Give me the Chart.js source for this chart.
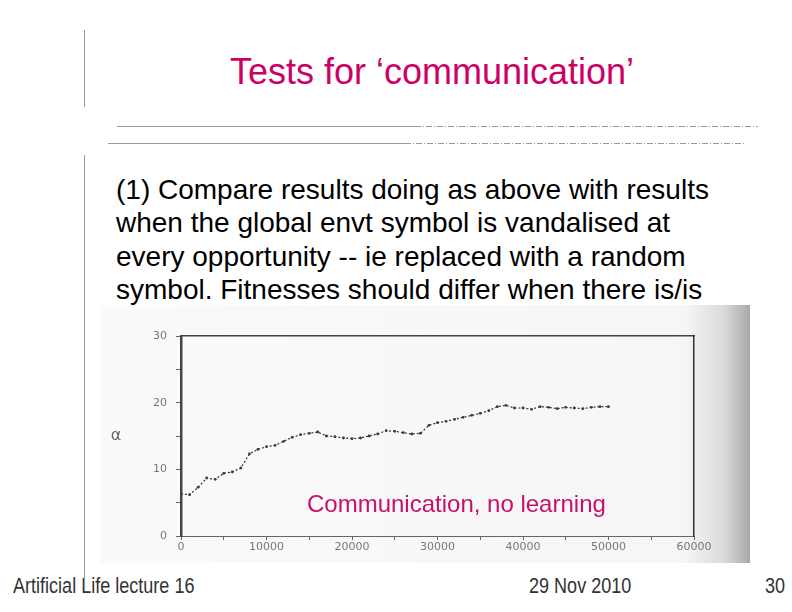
<!DOCTYPE html>
<html>
<head>
<meta charset="utf-8">
<script src="https://cdn.jsdelivr.net/npm/chart.js@4"></script>
<style>
  html, body { margin: 0; padding: 0; background: #fff; }
  #slide { position: relative; width: 792px; height: 612px; overflow: hidden; font-family: 'Liberation Sans', Arial, sans-serif; }
  .rule { position: absolute; background: #999; }
  #title { position: absolute; left: 0; width: 864px; top: 51px; text-align: center; font-size: 36px; color: #cc0066; }
  #body { position: absolute; left: 116px; top: 173px; font-size: 28px; line-height: 33.4px; color: #000; white-space: nowrap; }
  #plot { position: absolute; left: 100px; top: 305px; width: 650px; height: 258px;
    background: linear-gradient(to right, #fafafa 0%, #f6f6f6 90%, #dadada 96%, #a9a9a9 100%); }
  #note { position: absolute; left: 307px; top: 490px; font-size: 24px; color: #c8106a; white-space: nowrap; }
  .foot { position: absolute; top: 573px; font-size: 22px; color: #333; white-space: nowrap;
    transform: scaleX(0.82); transform-origin: left top; }
</style>
</head>
<body>
<div id="slide">
  <div class="rule" style="left:84px;top:30px;width:1px;height:77px"></div>
  <div id="title">Tests for ‘communication’</div>
  <div class="rule" style="left:117px;top:126px;width:298px;height:1px"></div>
  <div class="rule" style="left:415px;top:126px;width:343px;height:1px;background:repeating-linear-gradient(to right,#999 0 6px,transparent 6px 8px,#999 8px 9px,transparent 9px 11px)"></div>
  <div class="rule" style="left:108px;top:143px;width:297px;height:1px"></div>
  <div class="rule" style="left:405px;top:143px;width:340px;height:1px;background:repeating-linear-gradient(to right,#999 0 6px,transparent 6px 8px,#999 8px 9px,transparent 9px 11px)"></div>
  <div class="rule" style="left:84px;top:155px;width:1px;height:423px"></div>
  <div id="body">(1) Compare results doing as above with results<br>when the global envt symbol is vandalised at<br>every opportunity -- ie replaced with a random<br>symbol. Fitnesses should differ when there is/is</div>
  <div id="plot"><canvas id="chart" width="650" height="258"></canvas></div>
  <div id="note">Communication, no learning</div>
  <div class="foot" style="left:13px">Artificial Life lecture 16</div>
  <div class="foot" style="left:529px">29 Nov 2010</div>
  <div class="foot" style="left:765px">30</div>
</div>
<script>
// generations (x) and alpha (y)
const generations = [
  0, 1000, 2000, 3000, 4000, 5000, 6000, 7000, 8000, 9000,
  10000, 11000, 12000, 13000, 14000, 15000, 16000, 17000, 18000, 19000,
  20000, 21000, 22000, 23000, 24000, 25000, 26000, 27000, 28000, 29000,
  30000, 31000, 32000, 33000, 34000, 35000, 36000, 37000, 38000, 39000,
  40000, 41000, 42000, 43000, 44000, 45000, 46000, 47000, 48000, 49000, 50000
];
const alphaValues = [
  6.3, 6.2, 7.3, 8.7, 8.5, 9.4, 9.6, 10.2, 12.3, 13.0,
  13.4, 13.6, 14.2, 14.8, 15.2, 15.4, 15.6, 15.0, 14.9, 14.7,
  14.6, 14.7, 15.0, 15.3, 15.8, 15.7, 15.5, 15.3, 15.4, 16.6,
  17.0, 17.2, 17.5, 17.8, 18.1, 18.4, 18.8, 19.4, 19.6, 19.2,
  19.2, 19.0, 19.4, 19.3, 19.1, 19.3, 19.2, 19.1, 19.3, 19.4, 19.4
];
const X_MAX = 60000;
const Y_MAX = 30;
const yLabel = 'α';

const tickFont = { family: "'DejaVu Sans', sans-serif", size: 11 };
const tickColor = '#777';

// draw the unrotated α label left of the y axis
const alphaLabel = {
  id: 'alphaLabel',
  afterDraw(chart) {
    const { ctx, chartArea, scales } = chart;
    ctx.save();
    ctx.font = "16px 'DejaVu Sans', sans-serif";
    ctx.fillStyle = '#666';
    ctx.textAlign = 'center';
    ctx.textBaseline = 'middle';
    ctx.fillText(yLabel, chartArea.left - 65, scales.y.getPixelForValue(15));
    ctx.restore();
  }
};

const canvas = document.getElementById('chart');
const chart = new Chart(canvas.getContext('2d'), {
  type: 'line',
  data: {
    datasets: [{
      data: generations.map((g, i) => ({ x: g, y: alphaValues[i] })),
      borderColor: '#333', borderWidth: 1.2, borderDash: [2, 2],
      pointRadius: 1.4, pointBackgroundColor: '#3a3a3a', pointBorderWidth: 0,
      tension: 0, fill: false
    }]
  },
  options: {
    responsive: false, animation: false, devicePixelRatio: 1,
    layout: { padding: { top: 31, right: 56, left: 0, bottom: 0 } },
    plugins: { legend: { display: false }, tooltip: { enabled: false } },
    scales: {
      x: {
        type: 'linear', min: 0, max: X_MAX,
        afterFit: s => { s.height = 27; },
        border: { color: '#666', width: 1 },
        grid: { drawOnChartArea: false, tickLength: 4, color: '#666' },
        ticks: { stepSize: 5000, autoSkip: false, maxRotation: 0, padding: 1, font: tickFont, color: tickColor,
          callback: v => (v % 10000 === 0 ? String(v) : '') }
      },
      y: {
        min: 0, max: Y_MAX,
        afterFit: s => { s.width = 81; },
        border: { color: '#444', width: 2.5 },
        grid: { drawOnChartArea: false, tickLength: 5, color: '#666' },
        ticks: { stepSize: 5, padding: 9, font: tickFont, color: tickColor,
          callback: v => (v % 10 === 0 ? String(v) : '') }
      },
      xTop: {
        type: 'linear', position: 'top', min: 0, max: X_MAX,
        afterFit: s => { s.height = 0; },
        border: { color: '#444', width: 1.5 },
        grid: { display: false }, ticks: { display: false }
      },
      yRight: {
        position: 'right', min: 0, max: Y_MAX,
        afterFit: s => { s.width = 0; },
        border: { color: '#333', width: 1.5 },
        grid: { display: false }, ticks: { display: false }
      }
    }
  },
  plugins: [alphaLabel]
});
</script>
</body>
</html>
